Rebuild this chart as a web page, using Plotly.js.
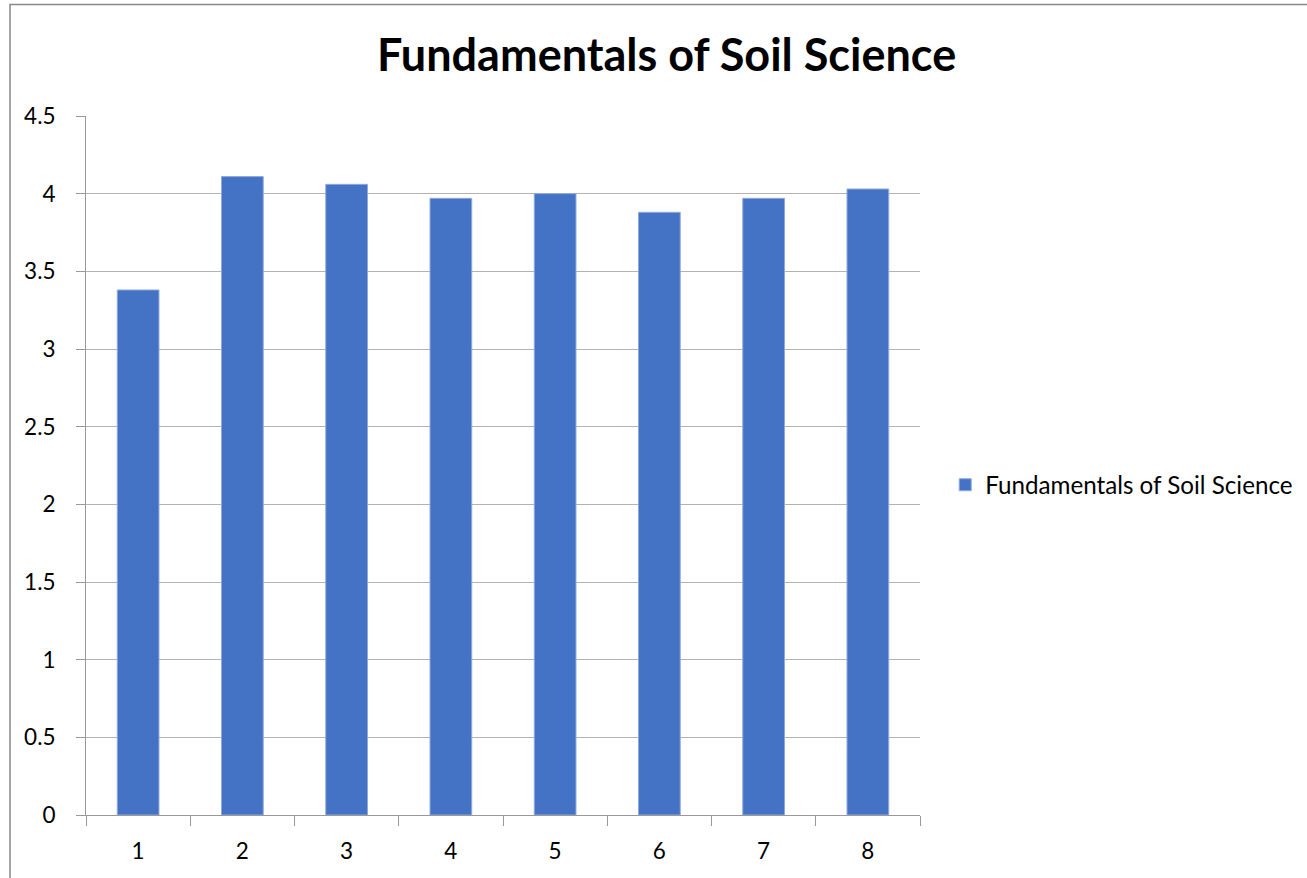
<!DOCTYPE html>
<html>
<head>
<meta charset="utf-8">
<script src="https://cdn.plot.ly/plotly-3.0.1.min.js"></script>
<style>
html,body{margin:0;padding:0;background:#fff;overflow:hidden;}
#chart{width:1307px;height:878px;}
</style>
</head>
<body>
<div id="chart"></div>
<script>
var categories = ["1","2","3","4","5","6","7","8"];
var values = [3.38, 4.11, 4.06, 3.97, 4.00, 3.88, 3.97, 4.03];
var seriesName = "Fundamentals of Soil Science";
var chartTitle = "Fundamentals of Soil Science";
var yTicks = [0, 0.5, 1, 1.5, 2, 2.5, 3, 3.5, 4, 4.5];

var FONT = "Lato, 'Open Sans', sans-serif";

var trace = {
  type: "bar",
  x: categories,
  y: values,
  name: seriesName,
  marker: {color: "#4472C4", line: {color: "#8fa9dc", width: 1}},
  showlegend: true
};

var layout = {
  width: 1307,
  height: 878,
  margin: {l: 86, r: 387, t: 116, b: 63},
  paper_bgcolor: "#fff",
  plot_bgcolor: "#fff",
  bargap: 0.6,
  showlegend: true,
  title: {
    text: "<b>" + chartTitle + "</b>",
    font: {family: FONT, size: 45, color: "#000"},
    x: 0.51, xref: "container", xanchor: "center",
    y: 0.937, yref: "container", yanchor: "middle"
  },
  legend: {
    xref: "container", yref: "container",
    x: 0.7232, xanchor: "left", y: 0.4476, yanchor: "middle",
    font: {family: FONT, size: 24.2, color: "#000"},
    itemwidth: 30
  },
  xaxis: {
    type: "category",
    tickson: "boundaries",
    ticks: "outside", ticklen: 10, tickcolor: "#999", tickwidth: 1,
    showline: true, linecolor: "#999", linewidth: 1,
    showgrid: false,
    tickfont: {family: FONT, size: 22.5, color: "#000"},
    ticklabelstandoff: 16,
    fixedrange: true
  },
  yaxis: {
    range: [0, 4.5],
    tickvals: yTicks,
    ticktext: yTicks.map(String),
    ticks: "outside", ticklen: 9, tickcolor: "#999", tickwidth: 1,
    showline: true, linecolor: "#999", linewidth: 1,
    showgrid: true, gridcolor: "#b3b3b3", gridwidth: 1,
    zeroline: false,
    tickfont: {family: FONT, size: 22.5, color: "#000"},
    ticklabelstandoff: 16,
    fixedrange: true
  },
  shapes: [{
    type: "rect", xref: "paper", yref: "paper",
    x0: -0.0911, x1: 1.6, y0: -0.3, y1: 1.1595,
    line: {color: "#888", width: 1.5}, fillcolor: "rgba(0,0,0,0)", layer: "below"
  }]
};

Plotly.newPlot("chart", [trace], layout, {displayModeBar: false, staticPlot: true});
</script>
</body>
</html>
